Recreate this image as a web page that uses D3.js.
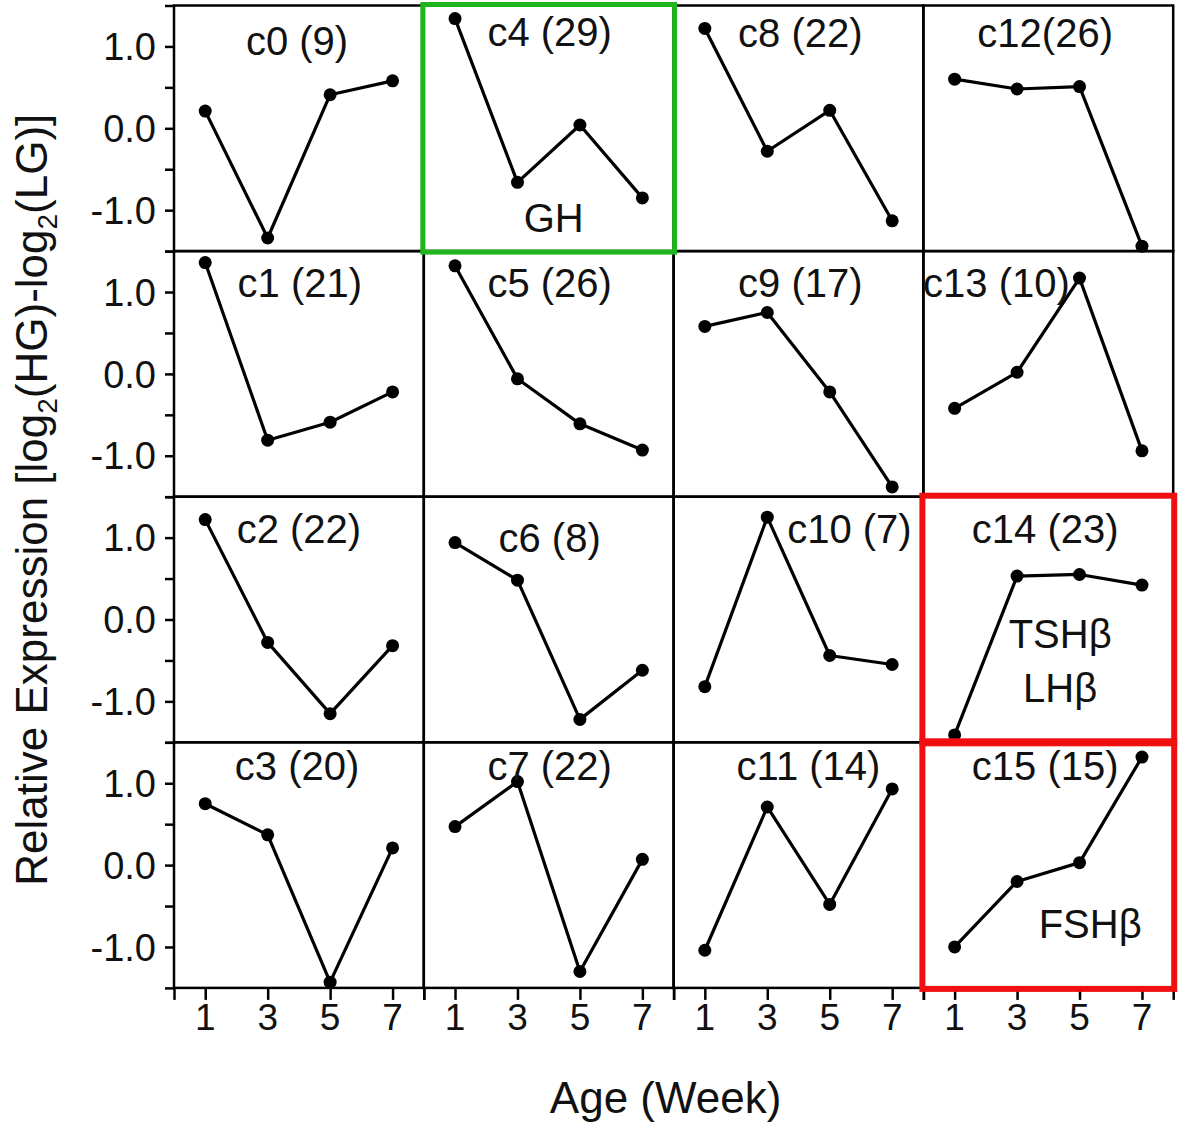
<!DOCTYPE html>
<html>
<head>
<meta charset="utf-8">
<script src="https://cdn.jsdelivr.net/npm/d3@7"></script>
<style>
  html, body { margin: 0; padding: 0; background: #fff; }
  svg { display: block; font-family: "Liberation Sans", Arial, Helvetica, sans-serif; }
</style>
</head>
<body>
<svg id="chart" width="1181" height="1128"></svg>
<script>
// ---------------- DATA ----------------
const weeks = [1, 3, 5, 7];
const xTickLabels = ["1", "3", "5", "7"];
const yTickValues = [-1.0, 0.0, 1.0];
const yTickLabels = ["-1.0", "0.0", "1.0"];
const clusterNames = ["c0","c1","c2","c3","c4","c5","c6","c7","c8","c9","c10","c11","c12","c13","c14","c15"];
const clusterTitles = ["c0 (9)","c1 (21)","c2 (22)","c3 (20)","c4 (29)","c5 (26)","c6 (8)","c7 (22)",
                       "c8 (22)","c9 (17)","c10 (7)","c11 (14)","c12(26)","c13 (10)","c14 (23)","c15 (15)"];
const c0  = [0.21, -1.34, 0.41, 0.58];
const c1  = [1.36, -0.81, -0.59, -0.22];
const c2  = [1.22, -0.28, -1.15, -0.32];
const c3  = [0.75, 0.37, -1.43, 0.21];
const c4  = [1.34, -0.66, 0.04, -0.85];
const c5  = [1.32, -0.06, -0.61, -0.93];
const c6  = [0.94, 0.48, -1.22, -0.62];
const c7  = [0.47, 1.02, -1.30, 0.07];
const c8  = [1.22, -0.28, 0.22, -1.13];
const c9  = [0.58, 0.75, -0.22, -1.38];
const c10 = [-0.82, 1.25, -0.44, -0.55];
const c11 = [-1.04, 0.71, -0.48, 0.93];
const c12 = [0.60, 0.48, 0.51, -1.44];
const c13 = [-0.42, 0.02, 1.17, -0.94];
const c14 = [-1.41, 0.53, 0.55, 0.42];
const c15 = [-1.00, -0.20, 0.03, 1.32];
const clusterValues = [c0,c1,c2,c3,c4,c5,c6,c7,c8,c9,c10,c11,c12,c13,c14,c15];
const geneLabels = [
  { cluster: 4,  lines: ["GH"] },
  { cluster: 14, lines: ["TSHβ", "LHβ"] },
  { cluster: 15, lines: ["FSHβ"] }
];
const highlightGreen = [4];
const highlightRed = [14, 15];

// ---------------- LAYOUT (positions / styles) ----------------
const gridLeft = 174, gridTop = 5.5, colW = 249.8, rowH = 245.6;
const nCols = 4, nRows = 4;
// title anchor in data units (week, value) for each cluster
const titlePos = [
  [3.94, 0.89], [4.03, 0.94], [4.0, 0.94], [3.94, 1.04],
  [4.03, 1.01], [4.03, 0.94], [4.03, 0.83], [4.03, 1.04],
  [4.06, 0.99], [4.06, 0.94], [5.63, 0.94], [4.32, 1.04],
  [3.9, 0.99],  [2.34, 0.94], [3.9, 0.94],  [3.9, 1.04]
];
const genePos = { 4: [[4.16, -1.27]], 14: [[4.38, -0.35], [4.38, -1.01]], 15: [[5.34, -0.89]] };

const svg = d3.select("#chart");

const x = d3.scaleLinear().domain([0, 8]).range([0, colW]);
const y = d3.scaleLinear().domain([-1.5, 1.5]).range([rowH, 0]);

const line = d3.line().x(d => x(d[0])).y(d => y(d[1]));

clusterValues.forEach((vals, k) => {
  const col = Math.floor(k / nRows), row = k % nRows;
  const g = svg.append("g")
    .attr("transform", `translate(${gridLeft + col * colW},${gridTop + row * rowH})`);

  // frame
  g.append("rect").attr("x", 0).attr("y", 0).attr("width", colW).attr("height", rowH)
    .attr("fill", "none").attr("stroke", "#000").attr("stroke-width", 2.5);

  // y axis on first column
  if (col === 0) {
    const ax = g.append("g").call(
      d3.axisLeft(y).tickValues([-1.5, -1.0, -0.5, 0, 0.5, 1.0, 1.5]).tickSize(9).tickFormat("")
    );
    ax.select(".domain").remove();
    ax.selectAll(".tick line").attr("stroke", "#000").attr("stroke-width", 2.5);
    yTickValues.forEach((v, i) => {
      g.append("text").attr("x", -18).attr("y", y(v)).attr("dy", "0.36em")
        .attr("text-anchor", "end").attr("font-size", 38).attr("fill", "#111")
        .text(yTickLabels[i]);
    });
  }
  // x axis on bottom row
  if (row === nRows - 1) {
    const ax = g.append("g").attr("transform", `translate(0,${rowH})`).call(
      d3.axisBottom(x).tickValues([0, 1, 3, 5, 7, 8]).tickSize(12).tickFormat("")
    );
    ax.select(".domain").remove();
    ax.selectAll(".tick line").attr("stroke", "#000").attr("stroke-width", 2.5);
    weeks.forEach((w, i) => {
      g.append("text").attr("x", x(w)).attr("y", rowH + 42)
        .attr("text-anchor", "middle").attr("font-size", 37).attr("fill", "#111")
        .text(xTickLabels[i]);
    });
  }

  const pts = weeks.map((w, i) => [w, vals[i]]);
  g.append("path").attr("d", line(pts)).attr("fill", "none")
    .attr("stroke", "#000").attr("stroke-width", 3.2).attr("stroke-linejoin", "round");
  g.selectAll("circle.pt").data(pts).join("circle").attr("class", "pt")
    .attr("cx", d => x(d[0])).attr("cy", d => y(d[1])).attr("r", 6.5).attr("fill", "#000");

  // title
  g.append("text").attr("x", x(titlePos[k][0])).attr("y", y(titlePos[k][1]))
    .attr("text-anchor", "middle").attr("font-size", 40).attr("fill", "#111")
    .text(clusterTitles[k]);
});

// gene labels
geneLabels.forEach(gl => {
  const k = gl.cluster, col = Math.floor(k / nRows), row = k % nRows;
  gl.lines.forEach((t, j) => {
    const p = genePos[k][j];
    svg.append("text").attr("x", gridLeft + col * colW + x(p[0]))
      .attr("y", gridTop + row * rowH + y(p[1]))
      .attr("text-anchor", "middle").attr("font-size", 40).attr("fill", "#111").text(t);
  });
});

// highlight boxes
function box(k, color, w) {
  const col = Math.floor(k / nRows), row = k % nRows;
  svg.append("rect").attr("x", gridLeft + col * colW - 1).attr("y", gridTop + row * rowH - 1)
    .attr("width", colW + 2).attr("height", rowH + 2)
    .attr("fill", "none").attr("stroke", color).attr("stroke-width", w);
}
highlightGreen.forEach(k => box(k, "#1fb51f", 5));
highlightRed.forEach(k => box(k, "#f01010", 6));

// axis titles
const gridH = rowH * nRows, gridW = colW * nCols;
const yl = svg.append("text")
  .attr("transform", `translate(47,${gridTop + gridH / 2 + 3}) rotate(-90)`)
  .attr("text-anchor", "middle").attr("font-size", 44).attr("fill", "#111");
yl.append("tspan").text("Relative Expression [log");
yl.append("tspan").attr("font-size", 28).attr("dy", 10).text("2");
yl.append("tspan").attr("dy", -10).text("(HG)-log");
yl.append("tspan").attr("font-size", 28).attr("dy", 10).text("2");
yl.append("tspan").attr("dy", -10).text("(LG)]");

svg.append("text").attr("x", gridLeft + gridW / 2 - 8).attr("y", 1113)
  .attr("text-anchor", "middle").attr("font-size", 44).attr("fill", "#111").text("Age (Week)");
</script>
</body>
</html>
